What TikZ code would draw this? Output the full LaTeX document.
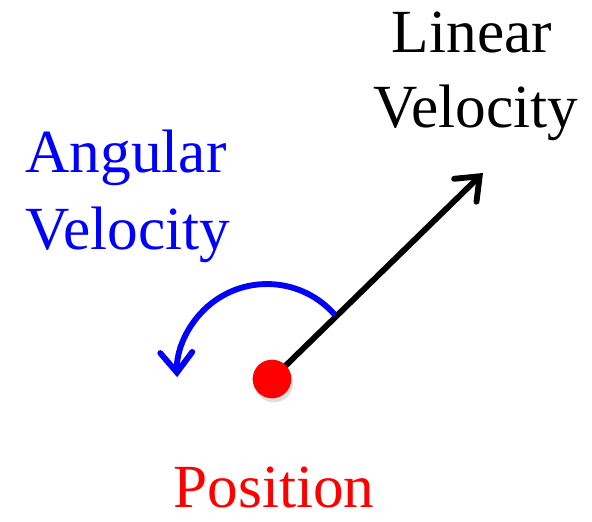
\documentclass[tikz,border=0pt]{standalone}
\usepackage{fontspec}
\setmainfont{Liberation Serif}
\usetikzlibrary{arrows.meta,positioning,shadows}
\definecolor{kvBlue}{HTML}{0000FF}
\definecolor{kvRed} {HTML}{FF0000}
\definecolor{kvInk} {HTML}{000000}
\tikzset{
  bigtext/.style={inner sep=0,anchor=base,font=\fontsize{46}{56}\selectfont},
  vecarrow/.style={line width=4.4pt,-{Straight Barb[length=15pt,width=24pt,line cap=round]}},
}

\begin{document}
\begin{tikzpicture}[x=0.75pt,y=0.75pt]
    \useasboundingbox (0,0) rectangle (592,521);
    % labels
    \node[bigtext,color=kvInk] (lin)  at (472,468) {Linear};
    \node[bigtext,color=kvInk] (linv) at (476,393) {Velocity};
    \node[bigtext,color=kvBlue] (ang)  at (126,348) {Angular};
    \node[bigtext,color=kvBlue] (angv) at (128,271) {Velocity};
    \node[bigtext,color=kvRed] (posl) at (274,14) {Position};
    % position dot and vectors
    \coordinate (posc) at (272,142);
    \coordinate (lintip) at (483,348);
    \coordinate (angstart) at (335,206);
    \draw[vecarrow,kvInk] (posc) -- (lintip);
    \draw[vecarrow,kvBlue] (angstart) arc[start angle=41,end angle=182,radius=90];
    \node[circle,fill=kvRed,minimum size=29pt,inner sep=0,
          drop shadow={shadow xshift=1.5pt,shadow yshift=-3pt,opacity=.25}]
      (pos) at (posc) {};
  \end{tikzpicture}
\end{document}
